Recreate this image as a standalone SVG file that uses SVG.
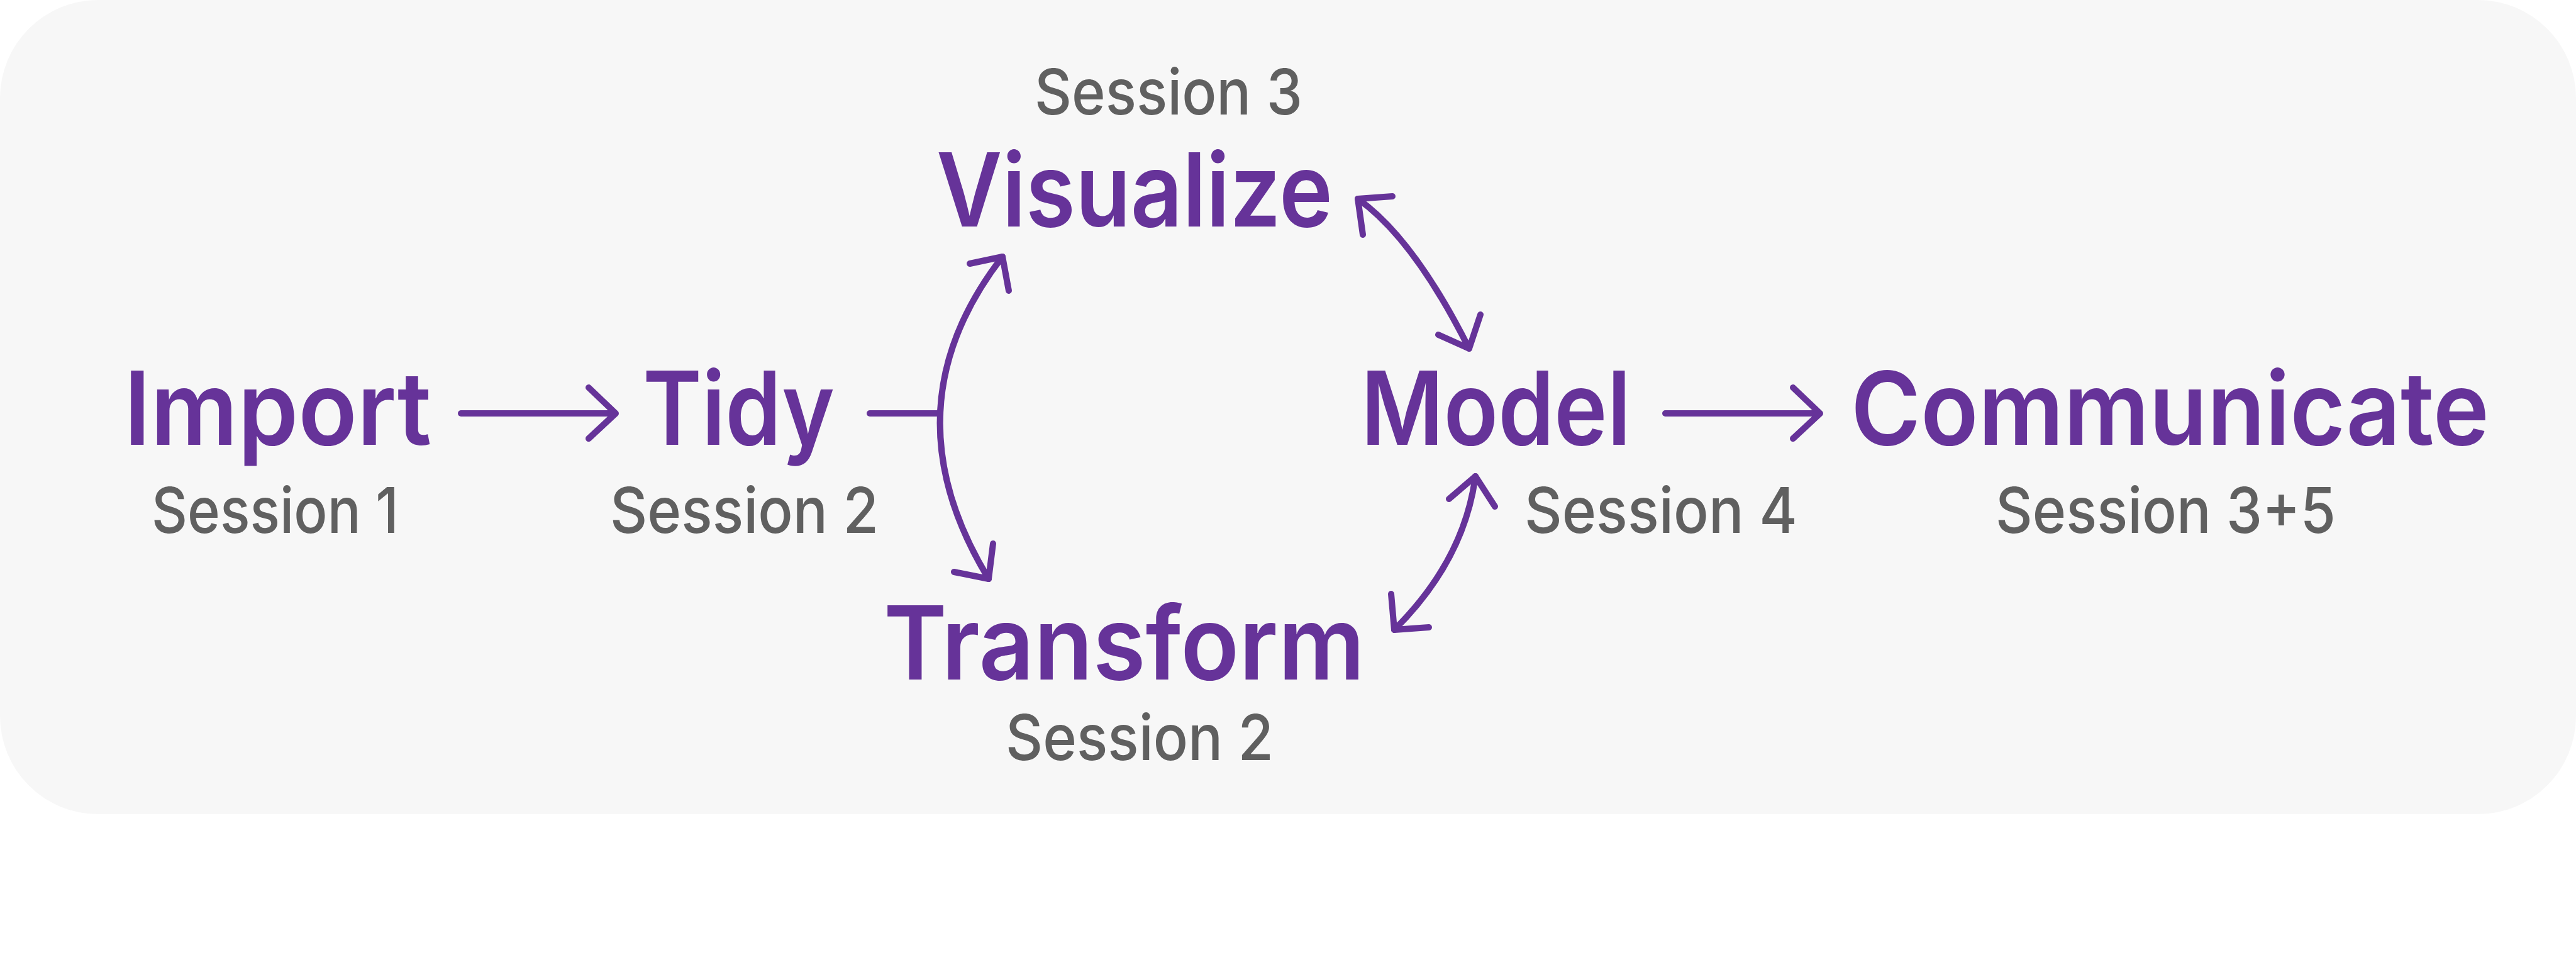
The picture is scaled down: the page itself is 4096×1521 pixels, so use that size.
<svg xmlns="http://www.w3.org/2000/svg" width="4096" height="1521" viewBox="0 0 4096 1521">
<style>
.main{font-family:Inter,"Liberation Sans",sans-serif;font-weight:600;font-size:162px;fill:#663399}
.sess{font-family:Inter,"Liberation Sans",sans-serif;font-weight:500;font-size:101px;fill:#606060}
.ln{fill:none;stroke:#663399;stroke-width:10;stroke-linecap:round;stroke-linejoin:round}
</style>
<rect x="0" y="0" width="4096" height="1521" fill="#ffffff"/>
<rect x="0" y="0" width="4096" height="1294" rx="156" ry="156" fill="#f7f7f7"/>
<g id="import"><text class="main" x="197" y="707" textLength="489" lengthAdjust="spacingAndGlyphs">Import</text><text class="sess" x="241" y="847" textLength="393" lengthAdjust="spacingAndGlyphs">Session 1</text></g>
<g id="tidy"><text class="main" x="1022" y="707" textLength="305" lengthAdjust="spacingAndGlyphs">Tidy</text><text class="sess" x="970" y="847" textLength="427" lengthAdjust="spacingAndGlyphs">Session 2</text></g>
<g id="visualize"><text class="sess" x="1645" y="182" textLength="426" lengthAdjust="spacingAndGlyphs">Session 3</text><text class="main" x="1489" y="360" textLength="630" lengthAdjust="spacingAndGlyphs">Visualize</text></g>
<g id="transform"><text class="main" x="1405" y="1080" textLength="765" lengthAdjust="spacingAndGlyphs">Transform</text><text class="sess" x="1599" y="1208" textLength="426" lengthAdjust="spacingAndGlyphs">Session 2</text></g>
<g id="model"><text class="main" x="2164" y="707" textLength="429" lengthAdjust="spacingAndGlyphs">Model</text><text class="sess" x="2424" y="847" textLength="434" lengthAdjust="spacingAndGlyphs">Session 4</text></g>
<g id="communicate"><text class="main" x="2943" y="707" textLength="1015" lengthAdjust="spacingAndGlyphs">Communicate</text><text class="sess" x="3173" y="847" textLength="541" lengthAdjust="spacingAndGlyphs">Session 3+5</text></g>
<g id="connectors">
<line class="ln" x1="733" y1="657" x2="977" y2="657" stroke-linecap="butt"/>
<polyline class="ln" points="936,616 979,657 936,697"/>
<line class="ln" x1="2648" y1="657" x2="2892" y2="657" stroke-linecap="butt"/>
<polyline class="ln" points="2851,616 2894,657 2851,697"/>
<line class="ln" x1="1383" y1="657" x2="1495" y2="657" stroke-linecap="butt"/>
<path class="ln" d="M1594,408 Q1407,649 1572,920"/>
<polyline class="ln" points="1542,419 1594,408 1604,462"/>
<polyline class="ln" points="1517,909 1572,920 1579,864"/>
<path class="ln" d="M2159,316 Q2248,379 2336,554"/>
<polyline class="ln" points="2214,312 2159,316 2167,373"/>
<polyline class="ln" points="2287,532 2336,554 2354,500"/>
<path class="ln" d="M2346,757 Q2328,891 2217,1001"/>
<polyline class="ln" points="2304,793 2346,757 2377,805"/>
<polyline class="ln" points="2212,944 2217,1001 2272,997"/>
</g>
</svg>
